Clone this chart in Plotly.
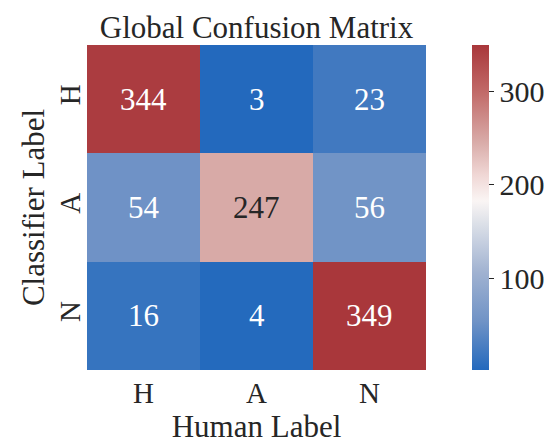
import plotly.graph_objects as go

# Confusion matrix: rows = classifier label, columns = human label
human_labels = ["H", "A", "N"]
classifier_labels = ["H", "A", "N"]
counts = [
    [344, 3, 23],
    [54, 247, 56],
    [16, 4, 349],
]

# Approximation of seaborn's "vlag" diverging colormap
vlag = [
    [0.0, "rgb(35,105,189)"],
    [0.15, "rgb(112,147,198)"],
    [0.3, "rgb(160,178,209)"],
    [0.45, "rgb(220,224,232)"],
    [0.52, "rgb(250,245,244)"],
    [0.6, "rgb(240,215,213)"],
    [0.7, "rgb(217,172,169)"],
    [0.85, "rgb(194,108,106)"],
    [1.0, "rgb(169,55,59)"],
]

FONT = "Liberation Serif"
TXT = "#262626"
W, H = 553, 448
L, R = 87, 5
PLOT_RIGHT = 426
CB_LEFT = 472
pw = W - L - R

zmin = min(min(r) for r in counts)
zmax = max(max(r) for r in counts)

fig = go.Figure(
    go.Heatmap(
        z=counts,
        x=human_labels,
        y=classifier_labels,
        colorscale=vlag,
        zmin=zmin,
        zmax=zmax,
        colorbar=dict(
            x=(CB_LEFT - L) / pw,
            xanchor="left",
            xpad=0,
            ypad=0,
            y=0.5,
            yanchor="middle",
            len=1.0,
            lenmode="fraction",
            thickness=17,
            outlinewidth=0,
            ticks="outside",
            ticklen=5,
            tickwidth=1,
            tickcolor=TXT,
            tickvals=[100, 200, 300],
            tickfont=dict(family=FONT, size=30, color=TXT),
        ),
        hoverinfo="skip",
    )
)

# Cell value labels, dark text on light cells and white text on dark cells
span = zmax - zmin
for i, row in enumerate(counts):
    for j, v in enumerate(row):
        frac = (v - zmin) / span
        color = TXT if 0.3 < frac < 0.75 else "white"
        fig.add_annotation(
            x=human_labels[j], y=classifier_labels[i], text=str(v),
            showarrow=False,
            font=dict(family=FONT, size=31, color=color),
        )

fig.update_layout(
    width=W,
    height=H,
    margin=dict(l=L, r=R, t=45, b=78),
    paper_bgcolor="white",
    plot_bgcolor="white",
    title=dict(
        text="Global Confusion Matrix",
        font=dict(family=FONT, size=31, color=TXT),
        x=(L + PLOT_RIGHT) / 2 / W,
        xanchor="center",
        xref="container",
        y=1 - 27 / H,
        yanchor="middle",
        yref="container",
    ),
    xaxis=dict(
        domain=[0, (PLOT_RIGHT - L) / pw],
        title=dict(text="Human Label", font=dict(family=FONT, size=31, color=TXT), standoff=0),
        tickfont=dict(family=FONT, size=29, color=TXT),
        ticklabelstandoff=3,
        showgrid=False, zeroline=False, ticks="",
        showline=False,
    ),
    yaxis=dict(
        title=dict(text="Classifier Label", font=dict(family=FONT, size=31, color=TXT), standoff=0),
        tickfont=dict(family=FONT, size=29, color=TXT),
        tickangle=-90,
        autorange="reversed",
        showgrid=False, zeroline=False, ticks="",
        showline=False,
    ),
)

fig.write_html("out.html")
